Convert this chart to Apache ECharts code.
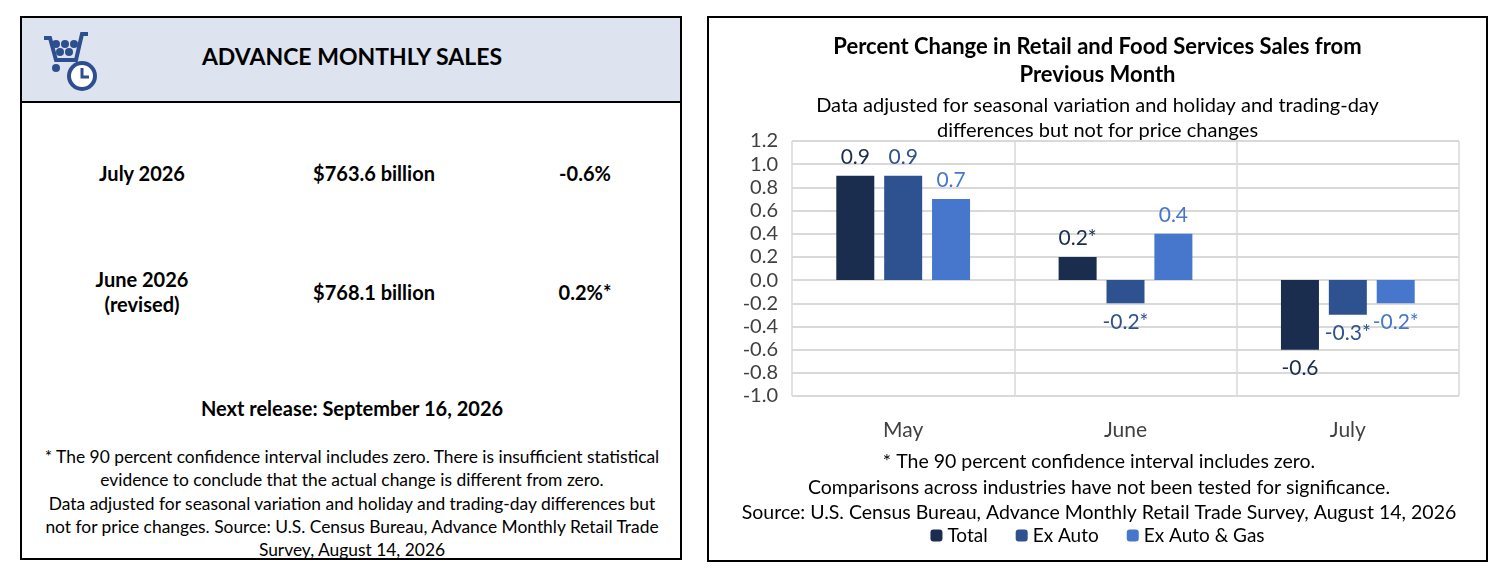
<!DOCTYPE html>
<html><head><meta charset="utf-8">
<script src="https://cdn.jsdelivr.net/npm/echarts@6/dist/echarts.min.js"></script>
<style>
body{margin:0;width:1504px;height:577px;background:#fff;font-family:Lato,"Open Sans",sans-serif;position:relative;overflow:hidden}
#left{position:absolute;left:20px;top:16px;width:658px;height:540px;border:2px solid #000}
#hdr{position:absolute;left:0;top:0;width:658px;height:83px;background:#dde4f0;border-bottom:2px solid #000}
.t{position:absolute;transform:translate(-50%,-50%);white-space:nowrap;text-align:center;color:#000}
.b{font-weight:bold;font-size:20px}
#right{position:absolute;left:707px;top:16px;width:777px;height:542px;border:2px solid #000}
#chart{position:absolute;left:0;top:0;width:777px;height:542px}
</style></head><body>
<div id="left">
 <div id="hdr">
  <svg style="position:absolute;left:18px;top:12px" width="64" height="66" viewBox="0 0 64 66">
   <path d="M4 8 L10 8 L16 30 L36 30 L42 4 L48 4" stroke="#2e4f8f" stroke-width="4" fill="none"/>
   <circle cx="16" cy="14" r="4" fill="#2e4f8f"/><circle cx="25" cy="14" r="4" fill="#2e4f8f"/><circle cx="34" cy="14" r="4" fill="#2e4f8f"/>
   <circle cx="20" cy="22" r="4" fill="#2e4f8f"/><circle cx="29" cy="22" r="4" fill="#2e4f8f"/>
   <circle cx="16" cy="38" r="4" fill="#2e4f8f"/>
   <circle cx="42" cy="46" r="15" fill="#2e4f8f"/><circle cx="42" cy="46" r="11" fill="#fff"/>
   <path d="M42 38 L42 47 L49 47" stroke="#2e4f8f" stroke-width="3" fill="none"/>
  </svg>
  <div class="t b" style="left:330px;top:38px;font-size:23px">ADVANCE MONTHLY SALES</div>
 </div>
 <div class="t b" style="left:120px;top:155px">July 2026</div>
 <div class="t b" style="left:352px;top:155px">$763.6 billion</div>
 <div class="t b" style="left:563px;top:155px">-0.6%</div>
 <div class="t b" style="left:120px;top:274px;line-height:25px">June 2026<br>(revised)</div>
 <div class="t b" style="left:352px;top:274px">$768.1 billion</div>
 <div class="t b" style="left:563px;top:274px">0.2%*</div>
 <div class="t b" style="left:330px;top:390px">Next release: September 16, 2026</div>
 <div class="t" style="left:330px;top:485px;font-size:17.4px;line-height:23.3px">* The 90 percent confidence interval includes zero. There is insufficient statistical<br>evidence to conclude that the actual change is different from zero.<br>Data adjusted for seasonal variation and holiday and trading-day differences but<br>not for price changes. Source: U.S. Census Bureau, Advance Monthly Retail Trade<br>Survey, August 14, 2026</div>
</div>
<div id="right"><div id="chart"></div></div>
<script>
const categories=["May","June","July"];
const total=[0.9,0.2,-0.6];
const exAuto=[0.9,-0.2,-0.3];
const exAutoGas=[0.7,0.4,-0.2];
const totalLabels=["0.9","0.2*","-0.6"];
const exAutoLabels=["0.9","-0.2*","-0.3*"];
const exAutoGasLabels=["0.7","0.4","-0.2*"];
const yTicks={min:-1.0,max:1.2,interval:0.2};
const colors=["#1b2d4f","#2e528f","#4677cc"];
const F='Lato,"Open Sans",sans-serif';
function mk(name,data,labels,c){return{name,type:'bar',barWidth:38,barGap:'26%',itemStyle:{color:c},
 label:{show:true,fontSize:21,fontFamily:F,color:c,distance:8,formatter:p=>labels[p.dataIndex]},
 data:data.map(v=>({value:v,label:{position:v<0?'bottom':'top'}}))};}
const ch=echarts.init(document.getElementById('chart'));
ch.setOption({
 textStyle:{fontFamily:F},
 title:{text:'Percent Change in Retail and Food Services Sales from\nPrevious Month',subtext:'Data adjusted for seasonal variation and holiday and trading-day\ndifferences but not for price changes',
  left:'center',top:10,itemGap:4,textStyle:{fontSize:22,fontWeight:'bold',color:'#000',lineHeight:28,fontFamily:F},
  subtextStyle:{fontSize:20,color:'#000',lineHeight:25,fontFamily:F}},
 legend:{bottom:10,left:'center',itemWidth:12,itemHeight:12,itemGap:28,textStyle:{fontSize:19,color:'#000',fontFamily:F},data:['Total','Ex Auto','Ex Auto & Gas']},
 grid:{left:83,top:123,width:667,height:255},
 xAxis:{type:'category',data:categories,axisLine:{show:false},axisTick:{show:false},
  axisLabel:{fontSize:21,color:'#404040',margin:24,fontFamily:F},splitLine:{show:true,lineStyle:{color:'#d9d9d9',width:1.5}}},
 yAxis:{type:'value',min:yTicks.min,max:yTicks.max,interval:yTicks.interval,
  axisLabel:{fontSize:20,color:'#404040',formatter:v=>v.toFixed(1),margin:14,fontFamily:F},
  axisLine:{show:false},splitLine:{lineStyle:{color:'#d9d9d9',width:2}}},
 series:[mk('Total',total,totalLabels,colors[0]),mk('Ex Auto',exAuto,exAutoLabels,colors[1]),mk('Ex Auto & Gas',exAutoGas,exAutoGasLabels,colors[2])],
 graphic:[{type:'text',x:390,y:431,style:{text:'* The 90 percent confidence interval includes zero.\nComparisons across industries have not been tested for significance.\nSource: U.S. Census Bureau, Advance Monthly Retail Trade Survey, August 14, 2026',
  fontSize:19.5,lineHeight:25.5,align:'center',fill:'#000',fontFamily:F}}]
});
</script></body></html>
